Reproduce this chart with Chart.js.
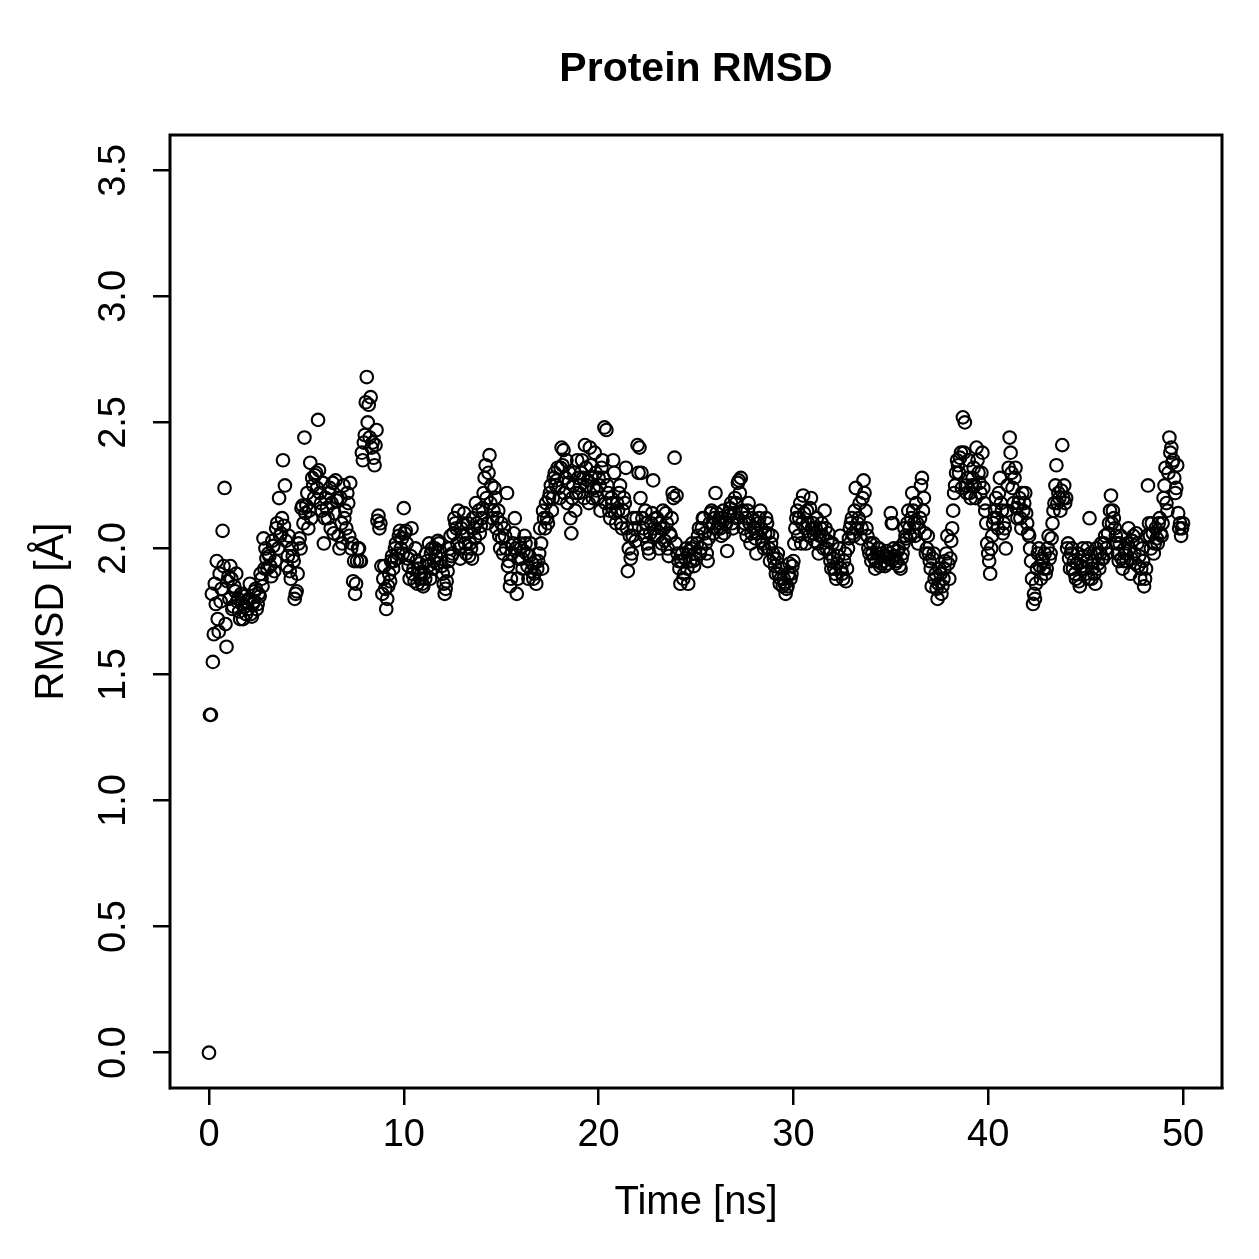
<!DOCTYPE html>
<html>
<head>
<meta charset="utf-8">
<script src="https://cdn.jsdelivr.net/npm/chart.js@4/dist/chart.umd.min.js"></script>
<style>
  html, body { margin: 0; padding: 0; background: #fff; }
  #wrap { width: 1259px; height: 1259px; }
</style>
</head>
<body>
<div id="wrap"><canvas id="rmsdChart" width="1259" height="1259"></canvas></div>
<script>
// RMSD values (Å) at whole 0.1 ns frames
const rmsd = [
    0.00, 1.34, 1.55, 1.86, 1.95, 1.67, 1.79, 2.07, 2.24, 1.61,
    1.89, 1.93, 1.76, 1.85, 1.90, 1.80, 1.72, 1.78, 1.81, 1.74,
    1.76, 1.86, 1.73, 1.79, 1.84, 1.78, 1.81, 1.88, 2.04, 2.00,
    1.92, 1.97, 1.89, 2.01, 1.95, 2.10, 2.20, 2.06, 2.35, 2.25,
    1.93, 2.05, 1.88, 1.97, 1.80, 1.83, 2.02, 2.00, 2.17, 2.44,
    2.17, 2.08, 2.34, 2.28, 2.20, 2.30, 2.51, 2.22, 2.15, 2.02,
    2.20, 2.12, 2.24, 2.18, 2.06, 2.27, 2.20, 2.00, 2.10, 2.25,
    2.15, 2.22, 2.05, 2.00, 1.87, 1.82, 1.95, 2.00, 1.95, 2.35,
    2.45, 2.68, 2.57, 2.60, 2.42, 2.33, 2.47, 2.13, 2.10, 1.82,
    1.93, 1.76, 1.85, 1.87, 1.97, 1.95, 2.02, 1.98, 2.07, 2.04,
    2.16, 2.07, 1.96, 1.88, 2.08, 1.92, 2.00, 1.86, 1.94, 1.90,
    1.85, 1.88, 1.95, 2.02, 1.98, 1.92, 2.00, 1.94, 2.02, 1.96,
    1.90, 1.82, 1.87, 1.95, 2.05, 1.98, 2.12, 2.08, 2.15, 1.96,
    2.05, 2.14, 1.98, 2.10, 2.02, 1.96, 2.08, 2.18, 2.00, 2.06,
    2.12, 2.22, 2.33, 2.10, 2.37, 2.25, 2.15, 2.20, 2.12, 2.05,
    2.10, 1.98, 2.05, 2.22, 1.95, 1.88, 2.02, 2.12, 1.82, 1.96,
    2.00, 1.92, 2.05, 1.98, 1.88, 2.02, 1.94, 1.90, 1.86, 1.95,
    2.08, 1.92, 2.12, 2.18, 2.10, 2.22, 2.15, 2.28, 2.25, 2.32,
    2.20, 2.40, 2.39, 2.28, 2.18, 2.30, 2.06, 2.25, 2.15, 2.35,
    2.22, 2.30, 2.28, 2.41, 2.25, 2.18, 2.33, 2.20, 2.38, 2.23,
    2.28, 2.15, 2.35, 2.48, 2.47, 2.22, 2.12, 2.18, 2.30, 2.10,
    2.15, 2.25, 2.08, 2.20, 2.32, 1.91, 2.05, 1.98, 2.12, 2.03,
    2.41, 2.40, 2.30, 2.08, 2.15, 2.02, 1.98, 2.10, 2.27, 2.05,
    2.12, 2.00, 2.08, 2.15, 2.03, 2.10, 1.97, 2.05, 2.22, 2.36,
    2.21, 1.95, 1.86, 1.98, 1.90, 2.00, 1.86, 1.95, 2.02, 1.93,
    1.96, 2.05, 1.98, 2.08, 2.12, 2.02, 1.95, 2.10, 2.15, 2.06,
    2.22, 2.08, 2.12, 2.05, 2.15, 2.10, 1.99, 2.13, 2.18, 2.08,
    2.20, 2.12, 2.27, 2.28, 2.15, 2.10, 2.05, 2.18, 2.02, 2.12,
    2.08, 1.98, 2.10, 2.15, 2.03, 2.00, 2.12, 2.06, 1.95, 2.05,
    1.96, 1.90, 1.98, 1.86, 1.92, 1.88, 1.82, 1.85, 1.94, 1.90,
    1.95, 2.08, 2.15, 2.12, 2.02, 2.21, 2.08, 2.15, 2.05, 2.20,
    2.10, 2.03, 2.12, 1.98, 2.08, 2.05, 2.15, 2.00, 2.06, 1.95,
    2.02, 1.92, 1.88, 1.97, 2.05, 1.90, 1.95, 1.87, 2.00, 2.08,
    2.12, 2.05, 2.24, 2.10, 2.18, 2.08, 2.27, 2.15, 2.05, 1.98,
    1.95, 2.02, 1.92, 1.98, 2.00, 1.94, 1.97, 1.93, 1.99, 1.96,
    2.14, 2.10, 1.97, 1.95, 2.00, 1.92, 1.98, 2.08, 2.04, 2.15,
    2.05, 2.22, 2.10, 2.18, 2.02, 2.12, 2.28, 2.20, 1.98, 2.05,
    1.95, 1.85, 1.98, 1.90, 1.80, 1.92, 1.82, 1.88, 1.95, 2.05,
    1.88, 2.03, 2.15, 2.25, 2.35, 2.30, 2.38, 2.52, 2.50, 2.22,
    2.35, 2.20, 2.28, 2.25, 2.40, 2.30, 2.22, 2.38, 2.18, 2.10,
    1.98, 1.90, 2.05, 2.12, 2.20, 2.08, 2.28, 2.15, 2.10, 2.00,
    2.25, 2.44, 2.30, 2.18, 2.32, 2.12, 2.20, 2.08, 2.15, 2.22,
    2.10, 2.05, 1.95, 1.78, 1.80, 1.92, 2.00, 1.88, 1.95, 1.98,
    1.92, 2.05, 1.98, 2.10, 2.18, 2.33, 2.22, 2.15, 2.41, 2.25,
    2.20, 2.02, 1.92, 2.00, 1.95, 1.88, 1.98, 1.85, 1.93, 1.97,
    1.90, 2.00, 2.12, 1.88, 1.95, 1.86, 1.98, 1.92, 2.02, 1.96,
    2.05, 1.98, 2.10, 2.21, 2.15, 2.08, 2.02, 1.95, 2.05, 1.92,
    2.00, 1.95, 2.08, 1.90, 2.03, 1.98, 2.06, 1.93, 1.88, 2.00,
    1.85, 1.92, 2.25, 2.05, 2.10, 1.98, 2.08, 2.02, 2.12, 2.05,
    2.20, 2.32, 2.15, 2.44, 2.40, 2.35, 2.22, 2.33, 2.08, 2.05,
    2.10
];

// RMSD values (Å) at the in-between frames (x.x5 ns)
const rmsdMid = [
    1.34, 1.82, 1.66, 1.78, 1.72, 1.90, 1.84, 1.93, 1.70, 1.87,
    1.80, 1.88, 1.77, 1.83, 1.79, 1.75, 1.82, 1.72, 1.77, 1.79,
    1.80, 1.74, 1.78, 1.83, 1.76, 1.82, 1.90, 1.85, 1.92, 1.96,
    1.98, 1.93, 2.03, 1.91, 2.08, 2.00, 2.05, 2.12, 2.09, 2.03,
    1.97, 1.91, 2.00, 1.95, 1.82, 1.90, 2.04, 2.16, 2.10, 2.14,
    2.22, 2.15, 2.12, 2.25, 2.29, 2.24, 2.31, 2.18, 2.26, 2.12,
    2.16, 2.22, 2.08, 2.26, 2.14, 2.19, 2.05, 2.20, 2.02, 2.12,
    2.08, 2.18, 2.26, 2.02, 1.95, 1.86, 2.00, 1.95, 2.38, 2.42,
    2.58, 2.50, 2.44, 2.40, 2.36, 2.41, 2.11, 2.08, 1.93, 1.88,
    1.84, 1.80, 1.90, 1.95, 1.92, 2.00, 1.96, 2.05, 2.00, 1.98,
    2.06, 2.02, 1.93, 1.97, 1.90, 1.87, 1.95, 1.92, 1.88, 1.86,
    1.90, 1.98, 1.93, 1.88, 2.00, 1.95, 1.97, 2.03, 1.99, 1.93,
    1.86, 1.84, 1.91, 2.00, 1.97, 2.06, 2.10, 2.02, 2.00, 2.08,
    2.10, 2.02, 2.06, 1.97, 2.00, 2.12, 2.04, 2.10, 2.15, 2.09,
    2.16, 2.28, 2.20, 2.30, 2.18, 2.12, 2.24, 2.08, 2.15, 2.00,
    2.04, 2.08, 2.00, 1.93, 1.85, 1.98, 2.06, 2.00, 1.88, 2.02,
    1.96, 1.99, 2.02, 1.93, 1.97, 1.91, 1.88, 1.95, 1.92, 1.98,
    2.02, 2.15, 2.08, 2.12, 2.20, 2.25, 2.20, 2.30, 2.27, 2.24,
    2.32, 2.33, 2.22, 2.35, 2.26, 2.12, 2.20, 2.30, 2.22, 2.28,
    2.25, 2.35, 2.20, 2.32, 2.27, 2.40, 2.28, 2.24, 2.30, 2.20,
    2.25, 2.32, 2.28, 2.18, 2.25, 2.15, 2.20, 2.35, 2.14, 2.18,
    2.22, 2.10, 2.15, 2.18, 2.08, 2.00, 1.96, 2.05, 2.08, 2.12,
    2.30, 2.20, 2.12, 2.05, 2.10, 2.00, 2.06, 2.14, 2.08, 2.12,
    2.05, 2.10, 2.02, 2.08, 2.14, 2.00, 2.06, 2.12, 2.20, 2.02,
    1.98, 1.92, 1.95, 1.88, 1.96, 1.92, 1.99, 2.00, 1.95, 1.98,
    2.02, 2.08, 2.00, 2.12, 2.06, 1.98, 2.04, 2.14, 2.10, 2.12,
    2.14, 2.10, 2.08, 2.12, 2.06, 2.10, 2.14, 2.16, 2.10, 2.14,
    2.18, 2.26, 2.22, 2.14, 2.08, 2.12, 2.15, 2.10, 2.06, 2.08,
    2.04, 2.06, 2.12, 2.08, 2.02, 2.06, 2.10, 2.00, 2.02, 1.98,
    1.93, 1.96, 1.90, 1.88, 1.85, 1.86, 1.84, 1.90, 1.88, 1.93,
    2.02, 2.12, 2.05, 2.18, 2.10, 2.14, 2.02, 2.10, 2.16, 2.08,
    2.06, 2.08, 2.02, 2.05, 2.10, 2.00, 2.08, 2.03, 1.98, 1.92,
    1.96, 1.90, 1.94, 2.00, 1.92, 1.88, 1.98, 1.92, 2.04, 2.10,
    2.06, 2.15, 2.08, 2.12, 2.04, 2.20, 2.22, 2.08, 2.00, 2.02,
    1.98, 1.96, 1.95, 2.00, 1.93, 1.98, 1.95, 1.97, 1.94, 1.98,
    2.10, 2.00, 1.94, 1.99, 1.93, 1.96, 2.02, 2.05, 2.10, 2.08,
    2.12, 2.15, 2.05, 2.10, 2.08, 2.25, 2.15, 2.06, 2.00, 1.98,
    1.92, 1.96, 1.88, 1.84, 1.86, 1.90, 1.85, 1.92, 1.98, 1.94,
    1.96, 2.08, 2.22, 2.30, 2.33, 2.36, 2.24, 2.38, 2.25, 2.28,
    2.22, 2.25, 2.32, 2.20, 2.35, 2.26, 2.30, 2.24, 2.15, 2.02,
    1.95, 2.00, 2.10, 2.15, 2.12, 2.22, 2.18, 2.06, 2.08, 2.15,
    2.32, 2.38, 2.24, 2.28, 2.16, 2.18, 2.12, 2.22, 2.18, 2.14,
    2.06, 2.00, 1.88, 1.82, 1.86, 1.98, 1.93, 1.96, 1.92, 1.90,
    2.00, 1.96, 2.04, 2.15, 2.25, 2.18, 2.20, 2.23, 2.20, 2.18,
    2.00, 1.96, 1.98, 1.92, 1.90, 1.94, 1.87, 1.95, 2.00, 1.92,
    1.95, 1.88, 1.98, 1.92, 1.90, 2.00, 1.94, 1.98, 1.96, 2.02,
    2.00, 2.06, 2.15, 2.10, 2.12, 2.05, 1.98, 2.02, 1.96, 1.95,
    1.98, 2.02, 2.00, 1.96, 2.05, 1.94, 2.02, 1.97, 1.92, 1.95,
    1.88, 2.05, 2.10, 2.00, 2.06, 2.02, 2.04, 2.10, 2.06, 2.10,
    2.25, 2.18, 2.30, 2.38, 2.34, 2.28, 2.24, 2.14, 2.10, 2.08
];

// frames every 0.1 ns, plus the in-between ones at +0.05 ns
const time = rmsd.map((_, i) => i / 10);
const timeMid = rmsdMid.map((_, i) => i / 10 + 0.05);

const xTicks = [0, 10, 20, 30, 40, 50];
const yTicks = [0.0, 0.5, 1.0, 1.5, 2.0, 2.5, 3.0, 3.5];

const fontFamily = '"Liberation Sans", Arial, Helvetica, sans-serif';

// main title + full box around the plot region (like R's box())
const frame = {
    id: 'frame',
    afterDraw(chart) {
        const { ctx, chartArea: a } = chart;
        ctx.save();
        ctx.strokeStyle = '#000';
        ctx.lineWidth = 3;
        ctx.strokeRect(a.left, a.top, a.right - a.left, a.bottom - a.top);
        ctx.fillStyle = '#000';
        ctx.font = 'bold 41px ' + fontFamily;
        ctx.textAlign = 'center';
        ctx.textBaseline = 'middle';
        ctx.fillText('Protein RMSD', (a.left + a.right) / 2, 70);
        ctx.restore();
    }
};

const points = [];
time.forEach((t, i) => {
    points.push({ x: t, y: rmsd[i] });
    if (i < rmsdMid.length) points.push({ x: timeMid[i], y: rmsdMid[i] });
});

const ctx = document.getElementById('rmsdChart').getContext('2d');
const rmsdChart = new Chart(ctx, {
    type: 'scatter',
    data: {
        datasets: [{
            label: 'RMSD',
            data: points,
            pointStyle: 'circle',
            pointRadius: 6.3,
            pointBorderWidth: 2.1,
            borderColor: '#000',
            backgroundColor: 'rgba(0,0,0,0)'
        }]
    },
    options: {
        responsive: false,
        animation: false,
        events: [],
        layout: { padding: { left: 0, right: 37, top: 135, bottom: 0 } },
        plugins: {
            legend: { display: false },
            tooltip: { enabled: false },
            title: { display: false }
        },
        scales: {
            x: {
                type: 'linear',
                min: -2,
                max: 52,
                afterBuildTicks: (scale) => { scale.ticks = xTicks.map(v => ({ value: v })); },
                afterFit: (scale) => { scale.height = 171; },
                grid: { drawOnChartArea: false, drawTicks: true, tickLength: 17, color: '#000', lineWidth: 2.5 },
                border: { display: true, color: '#000', width: 2 },
                ticks: {
                    color: '#000',
                    padding: 8,
                    maxRotation: 0,
                    font: { family: fontFamily, size: 38 },
                    callback: (v) => String(v)
                },
                title: {
                    display: true,
                    text: 'Time [ns]',
                    color: '#000',
                    font: { family: fontFamily, size: 40 },
                    padding: { top: 0, bottom: 32 }
                }
            },
            y: {
                type: 'linear',
                min: -0.14,
                max: 3.64,
                afterBuildTicks: (scale) => { scale.ticks = yTicks.map(v => ({ value: v })); },
                afterFit: (scale) => { scale.width = 170; },
                grid: { drawOnChartArea: false, drawTicks: true, tickLength: 17, color: '#000', lineWidth: 2.5 },
                border: { display: true, color: '#000', width: 2 },
                ticks: {
                    color: '#000',
                    padding: 12,
                    minRotation: 90,
                    maxRotation: 90,
                    crossAlign: 'center',
                    font: { family: fontFamily, size: 38 },
                    callback: (v) => v.toFixed(1)
                },
                title: {
                    display: true,
                    text: 'RMSD [Å]',
                    color: '#000',
                    font: { family: fontFamily, size: 40 },
                    padding: { top: 28, bottom: 0 }
                }
            }
        }
    },
    plugins: [frame]
});
</script>
</body>
</html>
